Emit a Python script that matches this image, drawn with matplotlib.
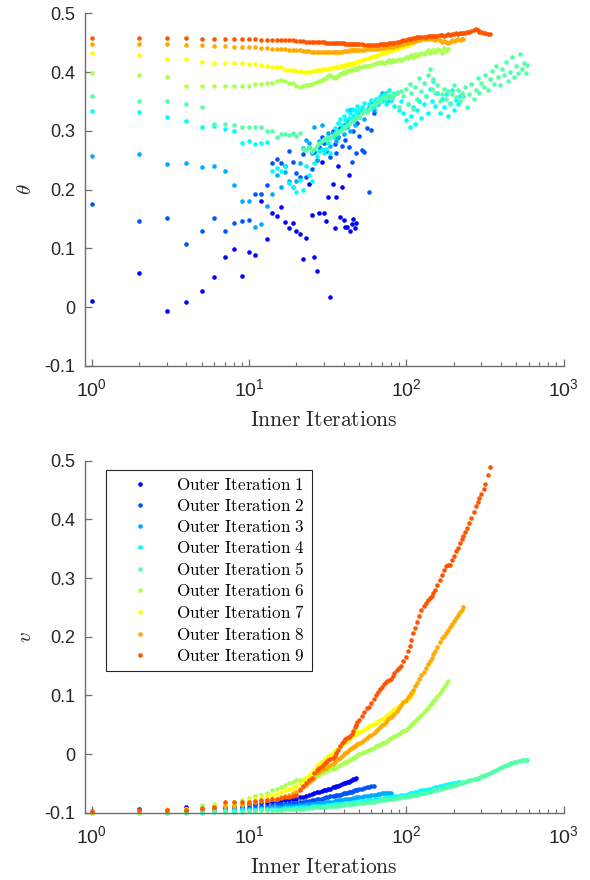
import numpy as np
import matplotlib
matplotlib.use('Agg')
from matplotlib import pyplot as plt
from matplotlib.ticker import FixedLocator, FixedFormatter, LogLocator, NullFormatter

plt.rcParams['font.family'] = ['Liberation Sans', 'DejaVu Sans']
plt.rcParams['mathtext.fontset'] = 'cm'
plt.rcParams['axes.unicode_minus'] = False

# inner iteration index of each stored sample (dense at start, thinned later)
INNER_ITERS = list(range(1, 51)) + [
    52, 54, 56, 58, 60, 62, 64, 66, 68, 70, 72, 74, 76, 78, 80, 82, 84,
    87, 90, 93, 96, 99, 102, 105, 108, 111, 114, 117,
    121, 125, 129, 133, 137, 141, 145, 149, 153,
    158, 163, 168, 173, 178, 183, 189, 195, 201, 207, 213, 219, 225, 231,
    238, 245, 252, 260, 268, 276, 284, 292, 301, 310, 319, 329, 339, 349, 359,
    370, 381, 392, 404, 416, 428, 441, 454, 468, 482, 496, 511, 526, 542,
    558, 575, 586]

# theta per outer iteration
THETA_1 = [0.010, 0.059, -0.007, 0.009, 0.027, 0.052, 0.086, 0.099, 0.053, 0.094,
           0.089, 0.180, 0.116, 0.160, 0.155, 0.170, 0.145, 0.135, 0.143, 0.130,
           0.124, 0.082, 0.117, 0.210, 0.157, 0.085, 0.062, 0.160, 0.247, 0.160,
           0.146, 0.187, 0.017, 0.210, 0.134, 0.187, 0.240, 0.154, 0.204, 0.148,
           0.137, 0.136, 0.225, 0.130, 0.142, 0.150, 0.135, 0.143]
THETA_2 = [0.176, 0.147, 0.152, 0.108, 0.130, 0.151, 0.129, 0.143, 0.146, 0.149,
           0.192, 0.192, 0.208, 0.245, 0.252, 0.245, 0.240, 0.266, 0.247, 0.228,
           0.222, 0.260, 0.222, 0.272, 0.235, 0.264, 0.250, 0.272, 0.290, 0.280,
           0.265, 0.290, 0.255, 0.300, 0.278, 0.262, 0.290, 0.305, 0.275, 0.310,
           0.285, 0.318, 0.272, 0.335, 0.247, 0.300, 0.320, 0.262, 0.313, 0.292,
           0.267, 0.264, 0.305, 0.196, 0.301, 0.330]
THETA_3 = [0.258, 0.261, 0.243, 0.245, 0.239, 0.241, 0.232, 0.208, 0.181, 0.181,
           0.137, 0.141, 0.173, 0.193, 0.225, 0.205, 0.230, 0.214, 0.205, 0.214,
           0.246, 0.271, 0.285, 0.279, 0.262, 0.307, 0.250, 0.282, 0.310, 0.268,
           0.285, 0.296, 0.275, 0.296, 0.290, 0.283, 0.290, 0.302, 0.307, 0.295,
           0.310, 0.307, 0.318, 0.300, 0.318, 0.322, 0.310, 0.324, 0.330, 0.324,
           0.335, 0.320, 0.335, 0.340, 0.347, 0.335, 0.352, 0.345, 0.358, 0.364,
           0.355, 0.364, 0.350, 0.360, 0.352]
THETA_4 = [0.334, 0.332, 0.324, 0.316, 0.307, 0.308, 0.304, 0.299, 0.279, 0.282,
           0.277, 0.279, 0.281, 0.231, 0.237, 0.231, 0.240, 0.211, 0.205, 0.196,
           0.216, 0.200, 0.240, 0.225, 0.215, 0.245, 0.258, 0.265, 0.270, 0.262,
           0.270, 0.280, 0.262, 0.290, 0.305, 0.298, 0.313, 0.320, 0.310, 0.325,
           0.318, 0.335, 0.322, 0.330, 0.338, 0.325, 0.336, 0.330, 0.342, 0.335,
           0.340, 0.348, 0.336, 0.345, 0.352, 0.341, 0.355, 0.347, 0.360, 0.350,
           0.362, 0.345, 0.358, 0.370, 0.352, 0.360, 0.343, 0.365, 0.335, 0.350,
           0.330, 0.318, 0.345, 0.307, 0.325, 0.340, 0.312, 0.335, 0.350, 0.322,
           0.345, 0.360, 0.330, 0.372, 0.350, 0.385, 0.342, 0.365, 0.330, 0.355,
           0.340, 0.362, 0.325, 0.348, 0.370, 0.335, 0.352, 0.345, 0.360]
THETA_5 = [0.360, 0.350, 0.350, 0.346, 0.340, 0.311, 0.311, 0.310, 0.306, 0.306,
           0.306, 0.306, 0.300, 0.299, 0.290, 0.294, 0.294, 0.293, 0.296, 0.292,
           0.296, 0.270, 0.268, 0.272, 0.266, 0.270, 0.275, 0.279, 0.282, 0.286,
           0.284, 0.290, 0.288, 0.292, 0.295, 0.294, 0.298, 0.300, 0.304, 0.306,
           0.305, 0.310, 0.312, 0.315, 0.318, 0.316, 0.320, 0.322, 0.325, 0.324,
           0.330, 0.335, 0.332, 0.338, 0.342, 0.345, 0.348, 0.352, 0.350, 0.356,
           0.358, 0.355, 0.362, 0.360, 0.357, 0.364, 0.362, 0.366, 0.340, 0.368,
           0.360, 0.372, 0.345, 0.380, 0.365, 0.338, 0.375, 0.355, 0.390, 0.368,
           0.382, 0.360, 0.395, 0.405, 0.372, 0.388, 0.365, 0.378, 0.350, 0.362,
           0.372, 0.355, 0.368, 0.345, 0.362, 0.378, 0.358, 0.370, 0.350, 0.365,
           0.360, 0.375, 0.340, 0.362, 0.380, 0.355, 0.370, 0.390, 0.365, 0.382,
           0.375, 0.395, 0.370, 0.388, 0.402, 0.380, 0.410, 0.392, 0.378, 0.405,
           0.395, 0.418, 0.385, 0.400, 0.425, 0.392, 0.410, 0.398, 0.430, 0.405,
           0.415, 0.398, 0.412]
THETA_6 = [0.398, 0.395, 0.391, 0.377, 0.376, 0.377, 0.377, 0.377, 0.377, 0.377,
           0.379, 0.380, 0.381, 0.382, 0.385, 0.387, 0.384, 0.382, 0.382, 0.376,
           0.374, 0.377, 0.378, 0.378, 0.380, 0.381, 0.383, 0.385, 0.386, 0.388,
           0.390, 0.393, 0.395, 0.391, 0.390, 0.392, 0.394, 0.396, 0.398, 0.400,
           0.399, 0.401, 0.403, 0.402, 0.404, 0.405, 0.406, 0.407, 0.406, 0.408,
           0.408, 0.410, 0.411, 0.410, 0.412, 0.414, 0.416, 0.415, 0.417, 0.418,
           0.416, 0.418, 0.419, 0.420, 0.418, 0.420, 0.419, 0.421, 0.422, 0.420,
           0.423, 0.425, 0.424, 0.427, 0.429, 0.426, 0.430, 0.428, 0.431, 0.433,
           0.430, 0.435, 0.437, 0.432, 0.436, 0.438, 0.434, 0.440, 0.437, 0.433,
           0.441, 0.436, 0.439]
THETA_7 = [0.433, 0.429, 0.423, 0.423, 0.418, 0.415, 0.415, 0.416, 0.416, 0.414,
           0.414, 0.412, 0.410, 0.409, 0.409, 0.408, 0.404, 0.403, 0.403, 0.402,
           0.401, 0.400, 0.400, 0.400, 0.401, 0.402, 0.403, 0.403, 0.404, 0.405,
           0.406, 0.405, 0.407, 0.407, 0.408, 0.408, 0.409, 0.410, 0.410, 0.411,
           0.412, 0.413, 0.413, 0.414, 0.414, 0.415, 0.416, 0.417, 0.418, 0.419,
           0.420, 0.422, 0.423, 0.424, 0.426, 0.427, 0.428, 0.429, 0.430, 0.432,
           0.433, 0.434, 0.435, 0.436, 0.437, 0.438, 0.439, 0.440, 0.441, 0.443,
           0.444, 0.445, 0.446, 0.447, 0.449, 0.451]
THETA_8 = [0.448, 0.448, 0.447, 0.446, 0.446, 0.444, 0.444, 0.443, 0.443, 0.443,
           0.442, 0.441, 0.441, 0.440, 0.440, 0.439, 0.439, 0.438, 0.438, 0.437,
           0.437, 0.436, 0.436, 0.436, 0.435, 0.435, 0.435, 0.434, 0.434, 0.434,
           0.434, 0.434, 0.434, 0.434, 0.435, 0.435, 0.435, 0.435, 0.435, 0.436,
           0.436, 0.436, 0.436, 0.437, 0.437, 0.437, 0.437, 0.437, 0.438, 0.438,
           0.438, 0.438, 0.439, 0.439, 0.439, 0.440, 0.440, 0.440, 0.441, 0.441,
           0.441, 0.442, 0.442, 0.443, 0.443, 0.443, 0.444, 0.445, 0.446, 0.447,
           0.448, 0.449, 0.450, 0.451, 0.452, 0.452, 0.453, 0.454, 0.455, 0.456,
           0.456, 0.457, 0.457, 0.458, 0.457, 0.456, 0.455, 0.456, 0.454, 0.452,
           0.453, 0.451, 0.450, 0.452, 0.454, 0.453, 0.455, 0.456, 0.455, 0.457,
           0.456]
THETA_9 = [0.458, 0.458, 0.458, 0.458, 0.457, 0.457, 0.457, 0.456, 0.456, 0.456,
           0.456, 0.455, 0.455, 0.455, 0.455, 0.454, 0.454, 0.454, 0.454, 0.453,
           0.453, 0.453, 0.452, 0.452, 0.452, 0.452, 0.451, 0.451, 0.451, 0.451,
           0.450, 0.450, 0.450, 0.450, 0.450, 0.449, 0.449, 0.449, 0.449, 0.449,
           0.448, 0.448, 0.448, 0.448, 0.448, 0.448, 0.447, 0.447, 0.447, 0.447,
           0.447, 0.446, 0.446, 0.446, 0.446, 0.446, 0.446, 0.446, 0.447, 0.447,
           0.447, 0.448, 0.448, 0.449, 0.449, 0.450, 0.450, 0.451, 0.452, 0.453,
           0.454, 0.455, 0.456, 0.457, 0.457, 0.458, 0.458, 0.459, 0.459, 0.460,
           0.460, 0.460, 0.461, 0.461, 0.462, 0.462, 0.461, 0.462, 0.463, 0.463,
           0.462, 0.463, 0.464, 0.463, 0.464, 0.465, 0.466, 0.465, 0.466, 0.467,
           0.466, 0.467, 0.469, 0.468, 0.470, 0.472, 0.473, 0.471, 0.469, 0.468,
           0.467, 0.466, 0.465, 0.464]

# v per outer iteration
V_1 = [-0.098, -0.094, -0.095, -0.090, -0.093, -0.091, -0.090, -0.089, -0.089, -0.086,
       -0.085, -0.084, -0.083, -0.082, -0.081, -0.080, -0.079, -0.078, -0.077, -0.076,
       -0.074, -0.073, -0.071, -0.069, -0.068, -0.066, -0.065, -0.064, -0.063, -0.062,
       -0.061, -0.060, -0.059, -0.057, -0.056, -0.055, -0.054, -0.052, -0.051, -0.050,
       -0.049, -0.048, -0.047, -0.046, -0.044, -0.043, -0.042, -0.040]
V_2 = [-0.098, -0.096, -0.097, -0.095, -0.094, -0.094, -0.093, -0.092, -0.091, -0.090,
       -0.089, -0.088, -0.088, -0.087, -0.086, -0.086, -0.085, -0.084, -0.083, -0.083,
       -0.082, -0.081, -0.080, -0.080, -0.079, -0.078, -0.077, -0.076, -0.076, -0.075,
       -0.074, -0.073, -0.072, -0.072, -0.071, -0.070, -0.069, -0.069, -0.068, -0.067,
       -0.066, -0.066, -0.065, -0.064, -0.064, -0.063, -0.062, -0.062, -0.061, -0.060,
       -0.059, -0.058, -0.057, -0.056, -0.055, -0.054]
V_3 = [-0.099, -0.098, -0.098, -0.097, -0.096, -0.096, -0.095, -0.095, -0.094, -0.093,
       -0.093, -0.092, -0.092, -0.091, -0.090, -0.090, -0.089, -0.089, -0.088, -0.088,
       -0.087, -0.087, -0.086, -0.086, -0.085, -0.085, -0.084, -0.084, -0.083, -0.083,
       -0.082, -0.082, -0.081, -0.081, -0.080, -0.080, -0.079, -0.079, -0.078, -0.078,
       -0.077, -0.077, -0.076, -0.076, -0.076, -0.075, -0.075, -0.074, -0.074, -0.073,
       -0.073, -0.072, -0.071, -0.071, -0.070, -0.069, -0.069, -0.068, -0.068, -0.067,
       -0.067, -0.067, -0.066, -0.066, -0.066]
V_4 = [-0.099, -0.099, -0.098, -0.098, -0.097, -0.097, -0.096, -0.096, -0.096, -0.095,
       -0.095, -0.094, -0.094, -0.093, -0.093, -0.093, -0.092, -0.092, -0.092, -0.091,
       -0.091, -0.090, -0.090, -0.090, -0.089, -0.089, -0.089, -0.088, -0.088, -0.088,
       -0.087, -0.087, -0.087, -0.086, -0.086, -0.086, -0.085, -0.085, -0.085, -0.084,
       -0.084, -0.084, -0.083, -0.083, -0.083, -0.082, -0.082, -0.082, -0.081, -0.081,
       -0.080, -0.080, -0.079, -0.079, -0.078, -0.078, -0.077, -0.077, -0.076, -0.076,
       -0.075, -0.075, -0.074, -0.074, -0.073, -0.073, -0.072, -0.072, -0.071, -0.070,
       -0.070, -0.069, -0.068, -0.067, -0.067, -0.066, -0.065, -0.064, -0.063, -0.062,
       -0.062, -0.061, -0.060, -0.060, -0.059, -0.058, -0.057, -0.056, -0.055, -0.054,
       -0.053, -0.052, -0.051, -0.051, -0.050, -0.049, -0.049, -0.048, -0.047]
V_5 = [-0.100, -0.100, -0.100, -0.100, -0.100, -0.099, -0.099, -0.098, -0.098, -0.097,
       -0.097, -0.096, -0.096, -0.096, -0.095, -0.095, -0.094, -0.094, -0.094, -0.093,
       -0.093, -0.093, -0.092, -0.092, -0.092, -0.091, -0.091, -0.091, -0.090, -0.090,
       -0.090, -0.089, -0.089, -0.089, -0.088, -0.088, -0.088, -0.087, -0.087, -0.087,
       -0.086, -0.086, -0.086, -0.085, -0.085, -0.085, -0.085, -0.084, -0.084, -0.084,
       -0.083, -0.083, -0.082, -0.082, -0.081, -0.081, -0.080, -0.080, -0.079, -0.079,
       -0.078, -0.078, -0.077, -0.077, -0.077, -0.076, -0.076, -0.075, -0.075, -0.074,
       -0.073, -0.073, -0.072, -0.071, -0.071, -0.070, -0.069, -0.069, -0.068, -0.067,
       -0.066, -0.066, -0.065, -0.064, -0.063, -0.062, -0.062, -0.061, -0.060, -0.059,
       -0.058, -0.057, -0.056, -0.055, -0.054, -0.053, -0.052, -0.051, -0.050, -0.049,
       -0.048, -0.047, -0.046, -0.045, -0.044, -0.043, -0.042, -0.041, -0.040, -0.038,
       -0.037, -0.035, -0.034, -0.032, -0.031, -0.029, -0.027, -0.026, -0.024, -0.022,
       -0.021, -0.019, -0.018, -0.016, -0.015, -0.014, -0.013, -0.012, -0.012, -0.011,
       -0.011, -0.010, -0.010]
V_6 = [-0.100, -0.098, -0.097, -0.093, -0.087, -0.085, -0.083, -0.081, -0.078, -0.075,
       -0.072, -0.070, -0.066, -0.062, -0.059, -0.056, -0.053, -0.050, -0.047, -0.045,
       -0.044, -0.044, -0.043, -0.042, -0.041, -0.039, -0.037, -0.035, -0.033, -0.031,
       -0.029, -0.027, -0.026, -0.025, -0.024, -0.022, -0.020, -0.019, -0.017, -0.015,
       -0.014, -0.013, -0.011, -0.010, -0.008, -0.006, -0.005, -0.003, -0.002, 0.000,
       0.002, 0.004, 0.006, 0.007, 0.009, 0.011, 0.013, 0.015, 0.016, 0.018,
       0.019, 0.021, 0.023, 0.025, 0.027, 0.029, 0.031, 0.033, 0.035, 0.037,
       0.039, 0.041, 0.044, 0.047, 0.050, 0.053, 0.056, 0.059, 0.063, 0.067,
       0.071, 0.075, 0.079, 0.083, 0.087, 0.091, 0.094, 0.099, 0.104, 0.109,
       0.114, 0.119, 0.124]
V_7 = [-0.099, -0.097, -0.093, -0.094, -0.092, -0.088, -0.087, -0.085, -0.083, -0.079,
       -0.077, -0.074, -0.072, -0.070, -0.068, -0.065, -0.062, -0.060, -0.058, -0.054,
       -0.050, -0.045, -0.040, -0.035, -0.031, -0.027, -0.020, -0.017, -0.013, -0.010,
       -0.007, -0.004, -0.001, 0.002, 0.005, 0.007, 0.010, 0.013, 0.015, 0.018,
       0.020, 0.023, 0.025, 0.027, 0.030, 0.032, 0.033, 0.035, 0.037, 0.038,
       0.040, 0.042, 0.045, 0.047, 0.049, 0.051, 0.053, 0.056, 0.058, 0.060,
       0.062, 0.064, 0.067, 0.069, 0.071, 0.074, 0.076, 0.079, 0.082, 0.085,
       0.088, 0.091, 0.094, 0.097, 0.101, 0.105]
V_8 = [-0.099, -0.097, -0.095, -0.095, -0.094, -0.092, -0.088, -0.088, -0.087, -0.083,
       -0.082, -0.080, -0.079, -0.077, -0.076, -0.074, -0.072, -0.070, -0.067, -0.064,
       -0.060, -0.056, -0.052, -0.048, -0.044, -0.040, -0.032, -0.030, -0.028, -0.026,
       -0.023, -0.021, -0.019, -0.017, -0.013, -0.011, -0.009, -0.006, -0.003, 0.000,
       0.002, 0.004, 0.007, 0.009, 0.010, 0.012, 0.014, 0.016, 0.017, 0.019,
       0.021, 0.024, 0.027, 0.030, 0.033, 0.036, 0.040, 0.043, 0.046, 0.049,
       0.052, 0.055, 0.058, 0.061, 0.063, 0.066, 0.068, 0.073, 0.078, 0.083,
       0.088, 0.092, 0.097, 0.101, 0.104, 0.110, 0.116, 0.121, 0.128, 0.134,
       0.140, 0.147, 0.153, 0.158, 0.163, 0.170, 0.176, 0.183, 0.191, 0.198,
       0.202, 0.207, 0.211, 0.216, 0.222, 0.227, 0.232, 0.237, 0.242, 0.246,
       0.250]
V_9 = [-0.097, -0.096, -0.096, -0.095, -0.092, -0.090, -0.082, -0.082, -0.081, -0.081,
       -0.080, -0.079, -0.078, -0.077, -0.076, -0.075, -0.074, -0.073, -0.072, -0.070,
       -0.062, -0.055, -0.050, -0.045, -0.040, -0.033, -0.027, -0.024, -0.020, -0.017,
       -0.014, -0.011, -0.008, -0.006, -0.004, 0.002, 0.007, 0.013, 0.018, 0.022,
       0.025, 0.027, 0.029, 0.031, 0.034, 0.040, 0.046, 0.050, 0.054, 0.058,
       0.064, 0.072, 0.078, 0.081, 0.087, 0.093, 0.100, 0.106, 0.111, 0.115,
       0.120, 0.123, 0.125, 0.126, 0.128, 0.133, 0.138, 0.143, 0.147, 0.150,
       0.158, 0.166, 0.175, 0.185, 0.195, 0.206, 0.215, 0.225, 0.236, 0.246,
       0.252, 0.258, 0.262, 0.266, 0.270, 0.275, 0.280, 0.288, 0.297, 0.305,
       0.313, 0.320, 0.322, 0.323, 0.330, 0.338, 0.346, 0.352, 0.360, 0.366,
       0.371, 0.379, 0.386, 0.394, 0.403, 0.413, 0.422, 0.430, 0.437, 0.444,
       0.452, 0.461, 0.475, 0.490]

THETA = [THETA_1, THETA_2, THETA_3, THETA_4, THETA_5, THETA_6, THETA_7, THETA_8, THETA_9]
V = [V_1, V_2, V_3, V_4, V_5, V_6, V_7, V_8, V_9]

# jet(12) rows 2..10, as matlab hands them out
COLORS = [(0, 0, 1), (0, 1/3, 1), (0, 2/3, 1), (0, 1, 1), (1/3, 1, 2/3),
          (2/3, 1, 1/3), (1, 1, 0), (1, 2/3, 0), (1, 1/3, 0)]
LABELS = [r'$\mathrm{Outer\ Iteration\ %d}$' % (i + 1) for i in range(9)]

Y_TICKS = [-0.1, 0, 0.1, 0.2, 0.3, 0.4, 0.5]
Y_TICK_LABELS = ['-0.1', '0', '0.1', '0.2', '0.3', '0.4', '0.5']
X_TICKS = [1, 10, 100, 1000]
X_TICK_LABELS = [r'$\mathdefault{10^{0}}$', r'$\mathdefault{10^{1}}$',
                 r'$\mathdefault{10^{2}}$', r'$\mathdefault{10^{3}}$']

AX_COLOR = '#6e6e6e'


def style_axes(ax, ylabel):
    ax.set_xscale('log')
    ax.set_xlim(0.907, 1000)
    ax.set_ylim(-0.1, 0.5)
    ax.spines['top'].set_visible(False)
    ax.spines['right'].set_visible(False)
    for s in ['left', 'bottom']:
        ax.spines[s].set_color(AX_COLOR)
        ax.spines[s].set_linewidth(1.0)
    ax.xaxis.set_major_locator(FixedLocator(X_TICKS))
    ax.xaxis.set_major_formatter(FixedFormatter(X_TICK_LABELS))
    ax.xaxis.set_minor_locator(LogLocator(base=10, subs=np.arange(2, 10), numticks=20))
    ax.xaxis.set_minor_formatter(NullFormatter())
    ax.yaxis.set_major_locator(FixedLocator(Y_TICKS))
    ax.yaxis.set_major_formatter(FixedFormatter(Y_TICK_LABELS))
    ax.tick_params(which='major', direction='in', length=5, width=0.9,
                   color=AX_COLOR, labelcolor='#262626')
    ax.tick_params(axis='y', labelsize=13, pad=7)
    ax.tick_params(axis='x', labelsize=14, pad=9)
    ax.tick_params(which='minor', direction='in', length=3, width=0.8, color=AX_COLOR)
    ax.set_xlabel(r'$\mathrm{Inner\ Iterations}$', fontsize=15.5, color='#262626')
    ax.set_ylabel(ylabel, fontsize=15, color='#262626')
    ax.xaxis.set_label_coords(0.5, -0.125)
    ax.yaxis.set_label_coords(-0.104, 0.5)


fig = plt.figure(figsize=(5.9, 8.8), dpi=100)
ax1 = fig.add_axes([85 / 590, 1 - 366 / 880, 478.5 / 590, 352.7 / 880])
ax2 = fig.add_axes([85 / 590, 1 - 812.7 / 880, 478.5 / 590, 352 / 880])

for k in range(9):
    x1 = INNER_ITERS[:len(THETA[k])]
    ax1.plot(x1, THETA[k], linestyle='none', marker='o', ms=3.3, mew=0,
             color=COLORS[k], clip_on=False)
    x2 = INNER_ITERS[:len(V[k])]
    ax2.plot(x2, V[k], linestyle='none', marker='o', ms=3.3, mew=0,
             color=COLORS[k], label=LABELS[k], clip_on=False)

style_axes(ax1, r'$\theta$')
style_axes(ax2, r'$v$')

leg = ax2.legend(loc='upper left', bbox_to_anchor=(0.044, 0.974), fontsize=12.3,
                 frameon=True, fancybox=False, edgecolor='#262626', framealpha=1,
                 borderpad=0.4, handlelength=3.2, handletextpad=0.5,
                 labelspacing=0.3, borderaxespad=0, markerscale=1.0)
leg.get_frame().set_linewidth(0.8)

fig.savefig('out.png', dpi=100)
